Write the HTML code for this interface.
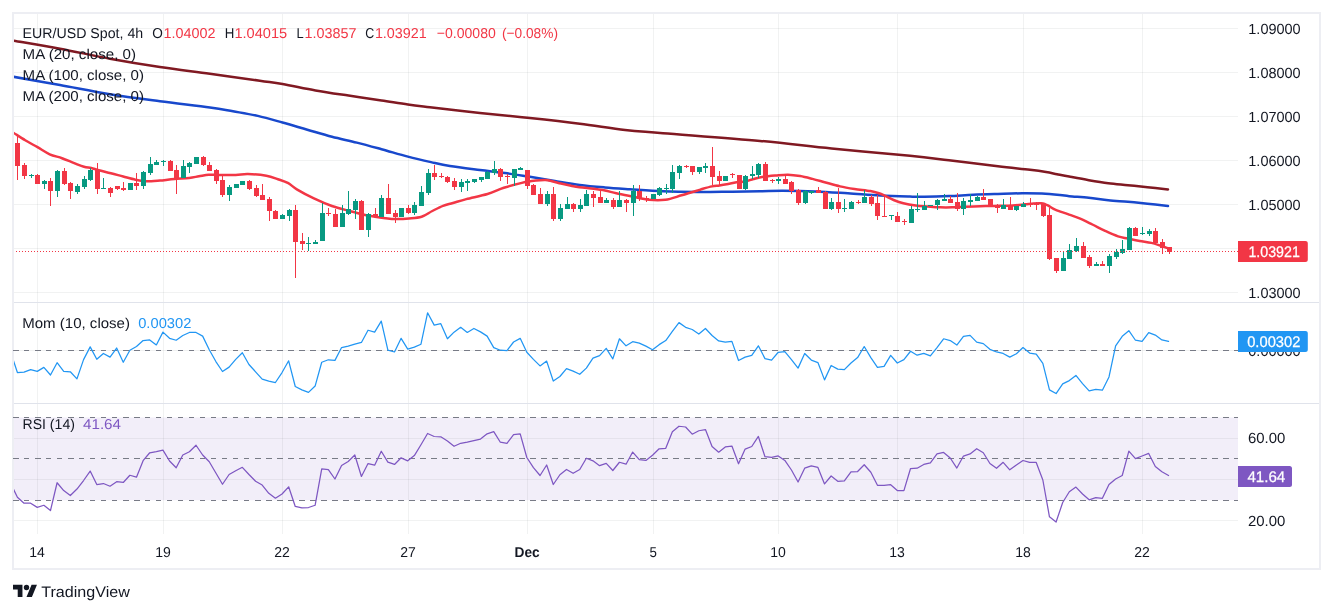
<!DOCTYPE html>
<html><head><meta charset="utf-8"><title>EUR/USD Spot 4h</title>
<style>
html,body{margin:0;padding:0;background:#fff;}
body{width:1333px;height:613px;position:relative;overflow:hidden;font-family:"Liberation Sans",sans-serif;}
text{white-space:pre;}
</style></head><body>
<svg width="1333" height="613" viewBox="0 0 1333 613" style="position:absolute;left:0;top:0;will-change:transform">
<defs><clipPath id="cm"><rect x="14" y="14" width="1224" height="288"/></clipPath><clipPath id="c2"><rect x="14" y="303" width="1224" height="100"/></clipPath><clipPath id="c3"><rect x="14" y="404" width="1224" height="130"/></clipPath></defs>
<g shape-rendering="crispEdges">
<rect x="14" y="417.5" width="1224" height="82.7" fill="#7E57C2" fill-opacity="0.1" shape-rendering="auto"/>
<rect x="37" y="14" width="1" height="520" fill="#2a3c3c" fill-opacity="0.065"/>
<rect x="163" y="14" width="1" height="520" fill="#2a3c3c" fill-opacity="0.065"/>
<rect x="282" y="14" width="1" height="520" fill="#2a3c3c" fill-opacity="0.065"/>
<rect x="408" y="14" width="1" height="520" fill="#2a3c3c" fill-opacity="0.065"/>
<rect x="527" y="14" width="1" height="520" fill="#2a3c3c" fill-opacity="0.065"/>
<rect x="653" y="14" width="1" height="520" fill="#2a3c3c" fill-opacity="0.065"/>
<rect x="778" y="14" width="1" height="520" fill="#2a3c3c" fill-opacity="0.065"/>
<rect x="897" y="14" width="1" height="520" fill="#2a3c3c" fill-opacity="0.065"/>
<rect x="1023" y="14" width="1" height="520" fill="#2a3c3c" fill-opacity="0.065"/>
<rect x="1142" y="14" width="1" height="520" fill="#2a3c3c" fill-opacity="0.065"/>
<rect x="14" y="28" width="1224" height="1" fill="#2a3c3c" fill-opacity="0.065"/>
<rect x="14" y="72" width="1224" height="1" fill="#2a3c3c" fill-opacity="0.065"/>
<rect x="14" y="116" width="1224" height="1" fill="#2a3c3c" fill-opacity="0.065"/>
<rect x="14" y="160" width="1224" height="1" fill="#2a3c3c" fill-opacity="0.065"/>
<rect x="14" y="204" width="1224" height="1" fill="#2a3c3c" fill-opacity="0.065"/>
<rect x="14" y="248" width="1224" height="1" fill="#2a3c3c" fill-opacity="0.065"/>
<rect x="14" y="292" width="1224" height="1" fill="#2a3c3c" fill-opacity="0.065"/>
<rect x="14" y="350" width="1224" height="1" fill="#2a3c3c" fill-opacity="0.065"/>
<rect x="14" y="438" width="1224" height="1" fill="#2a3c3c" fill-opacity="0.065"/>
<rect x="14" y="479" width="1224" height="1" fill="#2a3c3c" fill-opacity="0.065"/>
<rect x="14" y="520" width="1224" height="1" fill="#2a3c3c" fill-opacity="0.065"/>
<rect x="14" y="302" width="1305" height="1" fill="#e0e3eb"/>
<rect x="14" y="403" width="1305" height="1" fill="#e0e3eb"/>
<path d="M12,12H1321V570H12Z M14,14V568H1319V14Z" fill="#edeef3" fill-rule="evenodd"/>
</g>
<line x1="13" y1="350.5" x2="1238" y2="350.5" stroke="#787B86" stroke-width="1" stroke-dasharray="5.5 5.5" shape-rendering="crispEdges"/>
<line x1="13" y1="417.5" x2="1238" y2="417.5" stroke="#787B86" stroke-width="1" stroke-dasharray="5.5 5.5" shape-rendering="crispEdges"/>
<line x1="13" y1="458.5" x2="1238" y2="458.5" stroke="#787B86" stroke-width="1" stroke-dasharray="5.5 5.5" shape-rendering="crispEdges"/>
<line x1="13" y1="500.5" x2="1238" y2="500.5" stroke="#787B86" stroke-width="1" stroke-dasharray="5.5 5.5" shape-rendering="crispEdges"/>
<g clip-path="url(#cm)" fill="none" stroke-width="2.5" stroke-linecap="round" stroke-linejoin="round">
<path d="M5,39.1C6.33,39.34 3.83,38.9 13,40.5C22.17,42.1 43.85,45.67 60,48.7C76.15,51.73 93.25,55.65 109.9,58.7C126.55,61.75 143.23,64.5 159.9,67C176.57,69.5 193.25,71.42 209.9,73.7C226.55,75.98 247.7,78.98 259.8,80.7C271.9,82.42 273.22,82.38 282.5,84C291.78,85.62 304.5,88.47 315.5,90.4C326.5,92.33 337.5,93.92 348.5,95.6C359.5,97.28 371.6,99 381.5,100.5C391.4,102 399.83,103.47 407.9,104.6C415.97,105.73 417.9,105.9 429.9,107.3C441.9,108.7 463.23,111.22 479.9,113C496.57,114.78 513.25,116.22 529.9,118C546.55,119.78 563.95,121.7 579.8,123.7C595.65,125.7 611.13,128.42 625,130C638.87,131.58 640.5,131.38 663,133.2C685.5,135.02 731.9,138.35 760,140.9C788.1,143.45 806.6,146.02 831.6,148.5C856.6,150.98 890.45,153.83 910,155.8C929.55,157.77 934.25,158.55 948.9,160.3C963.55,162.05 984.38,164.72 997.9,166.3C1011.42,167.88 1021.98,168.85 1030,169.8C1038.02,170.75 1041.5,171.27 1046,172C1050.5,172.73 1053.13,173.43 1057,174.2C1060.87,174.97 1063.9,175.6 1069.2,176.6C1074.5,177.6 1082.28,179.1 1088.8,180.2C1095.32,181.3 1101.78,182.37 1108.3,183.2C1114.82,184.03 1121.37,184.52 1127.9,185.2C1134.43,185.88 1140.82,186.6 1147.5,187.3C1154.18,188 1164.58,189.05 1168,189.4" stroke="#801922"/>
<path d="M5,75.29C6.33,75.52 3.83,75.08 13,76.7C22.17,78.32 43.85,82.08 60,85C76.15,87.92 93.25,91.5 109.9,94.2C126.55,96.9 143.23,99 159.9,101.2C176.57,103.4 197.72,105.72 209.9,107.4C222.08,109.08 225.02,109.88 233,111.3C240.98,112.72 249.55,114.03 257.8,115.9C266.05,117.77 274.25,120.2 282.5,122.5C290.75,124.8 299.05,127.32 307.3,129.7C315.55,132.08 323.75,134.65 332,136.8C340.25,138.95 348.55,140.53 356.8,142.6C365.05,144.67 372.98,146.87 381.5,149.2C390.02,151.53 399.65,154.45 407.9,156.6C416.15,158.75 424,160.53 431,162.1C438,163.67 441.75,164.68 449.9,166C458.05,167.32 470.73,168.83 479.9,170C489.07,171.17 496.57,171.87 504.9,173C513.23,174.13 521.58,175.47 529.9,176.8C538.22,178.13 546.48,179.65 554.8,181C563.12,182.35 571.47,183.83 579.8,184.9C588.13,185.97 596.47,186.68 604.8,187.4C613.13,188.12 620.1,188.55 629.8,189.2C639.5,189.85 651.65,190.83 663,191.3C674.35,191.77 686.65,191.93 697.9,192C709.15,192.07 720.15,191.82 730.5,191.7C740.85,191.58 751.32,191.45 760,191.3C768.68,191.15 773.38,190.78 782.6,190.8C791.82,190.82 804.42,190.98 815.3,191.4C826.18,191.82 837.03,192.62 847.9,193.3C858.77,193.98 870.15,194.95 880.5,195.5C890.85,196.05 902.67,196.38 910,196.6C917.33,196.82 918.02,196.88 924.5,196.8C930.98,196.72 940.75,196.45 948.9,196.1C957.05,195.75 965.23,195.07 973.4,194.7C981.57,194.33 989.75,194.13 997.9,193.9C1006.05,193.67 1014.97,193.35 1022.3,193.3C1029.63,193.25 1035.62,193.32 1041.9,193.6C1048.18,193.88 1055.45,194.57 1060,195C1064.55,195.43 1064.4,195.73 1069.2,196.2C1074,196.67 1082.28,197.13 1088.8,197.8C1095.32,198.47 1101.78,199.53 1108.3,200.2C1114.82,200.87 1121.37,201.22 1127.9,201.8C1134.43,202.38 1140.82,203 1147.5,203.7C1154.18,204.4 1164.58,205.62 1168,206" stroke="#1848CC"/>
<path d="M5,127.45C6.33,128.29 9.63,130.38 13,132.5C16.37,134.62 21.12,137.75 25.2,140.2C29.28,142.65 33.42,144.85 37.5,147.2C41.58,149.55 45.62,152.47 49.7,154.3C53.78,156.13 57.92,156.73 62,158.2C66.08,159.67 70.53,161.67 74.2,163.1C77.87,164.53 81.15,165.98 84,166.8C86.85,167.62 88.85,167.43 91.3,168C93.75,168.57 95.43,169.33 98.7,170.2C101.97,171.07 106.82,172.15 110.9,173.2C114.98,174.25 119.12,175.42 123.2,176.5C127.28,177.58 132.15,178.95 135.4,179.7C138.65,180.45 140.05,180.73 142.7,181C145.35,181.27 148.42,181.37 151.3,181.3C154.18,181.23 156.13,180.97 160,180.6C163.87,180.23 169.63,179.55 174.5,179.1C179.37,178.65 185.13,178.37 189.2,177.9C193.27,177.43 195.63,176.83 198.9,176.3C202.17,175.77 205.53,174.92 208.8,174.7C212.07,174.48 214.02,174.95 218.5,175C222.98,175.05 230.8,175.15 235.7,175C240.6,174.85 242.8,173.98 247.9,174.1C253,174.22 261.28,174.85 266.3,175.7C271.32,176.55 274.33,177.95 278,179.2C281.67,180.45 285.17,181.52 288.3,183.2C291.43,184.88 292.53,186.77 296.8,189.3C301.07,191.83 308.05,195.62 313.9,198.4C319.75,201.18 325.92,203.9 331.9,206C337.88,208.1 343.83,209.42 349.8,211C355.77,212.58 361.72,214.3 367.7,215.5C373.68,216.7 380.92,217.6 385.7,218.2C390.48,218.8 392.52,219.05 396.4,219.1C400.28,219.15 404.8,218.9 409,218.5C413.2,218.1 417.72,217.95 421.6,216.7C425.48,215.45 428.73,212.82 432.3,211C435.87,209.18 439.55,207.13 443,205.8C446.45,204.47 449.12,204.12 453,203C456.88,201.88 460.55,200.6 466.3,199.1C472.05,197.6 481.25,195.88 487.5,194C493.75,192.12 498.08,189.65 503.8,187.8C509.52,185.95 517.37,183.98 521.8,182.9C526.23,181.82 528.03,181.7 530.4,181.3C532.77,180.9 533.52,180.72 536,180.5C538.48,180.28 542.63,179.88 545.3,180C547.97,180.12 549.38,180.62 552,181.2C554.62,181.78 558,182.78 561,183.5C564,184.22 566.92,184.87 570,185.5C573.08,186.13 575.57,186.75 579.5,187.3C583.43,187.85 589.35,188.27 593.6,188.8C597.85,189.33 601.22,189.75 605,190.5C608.78,191.25 611.7,192.28 616.3,193.3C620.9,194.32 627.17,195.52 632.6,196.6C638.03,197.68 643.45,199.27 648.9,199.8C654.35,200.33 659.85,200.55 665.3,199.8C670.75,199.05 676.17,196.87 681.6,195.3C687.03,193.73 694.47,191.45 697.9,190.4C701.33,189.35 699.85,189.67 702.2,189C704.55,188.33 709.13,187 712,186.4C714.87,185.8 716.95,185.77 719.4,185.4C721.85,185.03 723.85,184.72 726.7,184.2C729.55,183.68 733.43,182.75 736.5,182.3C739.57,181.85 742.25,182.05 745.1,181.5C747.95,180.95 750.55,179.78 753.6,179C756.65,178.22 759.72,177.38 763.4,176.8C767.08,176.22 771.62,175.85 775.7,175.5C779.78,175.15 783.82,174.6 787.9,174.7C791.98,174.8 796.12,175.4 800.2,176.1C804.28,176.8 808.33,177.88 812.4,178.9C816.47,179.92 820,180.95 824.6,182.2C829.2,183.45 835.02,185.27 840,186.4C844.98,187.53 849.43,188.22 854.5,189C859.57,189.78 866.32,190.38 870.4,191.1C874.48,191.82 876.55,192.5 879,193.3C881.45,194.1 882.67,194.78 885.1,195.9C887.53,197.02 890.55,198.77 893.6,200C896.65,201.23 899.72,202.38 903.4,203.3C907.08,204.22 911.62,204.97 915.7,205.5C919.78,206.03 923.82,206.2 927.9,206.5C931.98,206.8 936.12,207.17 940.2,207.3C944.28,207.43 948.33,207.4 952.4,207.3C956.47,207.2 960,206.88 964.6,206.7C969.2,206.52 975.02,206.33 980,206.2C984.98,206.07 989.03,206.02 994.5,205.9C999.97,205.78 1007.72,205.77 1012.8,205.5C1017.88,205.23 1021.53,204.65 1025,204.3C1028.47,203.95 1030.95,203.58 1033.6,203.4C1036.25,203.22 1039.07,203.13 1040.9,203.2C1042.73,203.27 1043.17,203.27 1044.6,203.8C1046.03,204.33 1047.65,205.4 1049.5,206.4C1051.35,207.4 1052.63,208.52 1055.7,209.8C1058.77,211.08 1063.82,212.62 1067.9,214.1C1071.98,215.58 1076.12,216.97 1080.2,218.7C1084.28,220.43 1088.33,222.52 1092.4,224.5C1096.47,226.48 1100.32,228.62 1104.6,230.6C1108.88,232.58 1114.22,235.08 1118.1,236.4C1121.98,237.72 1124.3,237.75 1127.9,238.5C1131.5,239.25 1135.78,240.17 1139.7,240.9C1143.62,241.63 1147.82,242.05 1151.4,242.9C1154.98,243.75 1158.4,245.08 1161.2,246C1164,246.92 1167.03,248 1168.2,248.4" stroke="#F23645"/>
</g>
<g clip-path="url(#cm)" shape-rendering="crispEdges">
<rect x="17" y="135" width="1" height="45" fill="#F23645"/>
<rect x="15" y="143" width="5" height="23" fill="#F23645"/>
<rect x="24" y="163" width="1" height="16" fill="#F23645"/>
<rect x="22" y="165" width="5" height="11" fill="#F23645"/>
<rect x="31" y="174" width="1" height="4" fill="#089981"/>
<rect x="29" y="175" width="5" height="1" fill="#089981"/>
<rect x="37" y="174" width="1" height="10" fill="#F23645"/>
<rect x="35" y="175" width="5" height="9" fill="#F23645"/>
<rect x="44" y="180" width="1" height="9" fill="#089981"/>
<rect x="42" y="181" width="5" height="3" fill="#089981"/>
<rect x="50" y="178" width="1" height="28" fill="#F23645"/>
<rect x="48" y="181" width="5" height="10" fill="#F23645"/>
<rect x="57" y="170" width="1" height="27" fill="#089981"/>
<rect x="55" y="171" width="5" height="20" fill="#089981"/>
<rect x="64" y="168" width="1" height="17" fill="#F23645"/>
<rect x="62" y="171" width="5" height="13" fill="#F23645"/>
<rect x="70" y="182" width="1" height="17" fill="#F23645"/>
<rect x="68" y="183" width="5" height="8" fill="#F23645"/>
<rect x="77" y="184" width="1" height="10" fill="#089981"/>
<rect x="75" y="186" width="5" height="6" fill="#089981"/>
<rect x="84" y="176" width="1" height="13" fill="#089981"/>
<rect x="82" y="179" width="5" height="8" fill="#089981"/>
<rect x="90" y="168" width="1" height="13" fill="#089981"/>
<rect x="88" y="170" width="5" height="10" fill="#089981"/>
<rect x="97" y="163" width="1" height="31" fill="#F23645"/>
<rect x="95" y="170" width="5" height="19" fill="#F23645"/>
<rect x="103" y="178" width="1" height="11" fill="#089981"/>
<rect x="101" y="188" width="5" height="1" fill="#089981"/>
<rect x="110" y="187" width="1" height="10" fill="#F23645"/>
<rect x="108" y="188" width="5" height="5" fill="#F23645"/>
<rect x="117" y="186" width="1" height="4" fill="#F23645"/>
<rect x="115" y="186" width="5" height="3" fill="#F23645"/>
<rect x="123" y="182" width="1" height="9" fill="#F23645"/>
<rect x="121" y="188" width="5" height="2" fill="#F23645"/>
<rect x="130" y="183" width="1" height="7" fill="#089981"/>
<rect x="128" y="183" width="5" height="7" fill="#089981"/>
<rect x="136" y="173" width="1" height="17" fill="#F23645"/>
<rect x="134" y="183" width="5" height="3" fill="#F23645"/>
<rect x="143" y="171" width="1" height="18" fill="#089981"/>
<rect x="141" y="172" width="5" height="14" fill="#089981"/>
<rect x="150" y="157" width="1" height="18" fill="#089981"/>
<rect x="148" y="164" width="5" height="9" fill="#089981"/>
<rect x="156" y="160" width="1" height="5" fill="#089981"/>
<rect x="154" y="162" width="5" height="3" fill="#089981"/>
<rect x="163" y="160" width="1" height="6" fill="#089981"/>
<rect x="161" y="161" width="5" height="1" fill="#089981"/>
<rect x="170" y="160" width="1" height="11" fill="#F23645"/>
<rect x="168" y="161" width="5" height="10" fill="#F23645"/>
<rect x="176" y="165" width="1" height="29" fill="#F23645"/>
<rect x="174" y="170" width="5" height="8" fill="#F23645"/>
<rect x="183" y="160" width="1" height="18" fill="#089981"/>
<rect x="181" y="166" width="5" height="12" fill="#089981"/>
<rect x="189" y="162" width="1" height="11" fill="#089981"/>
<rect x="187" y="163" width="5" height="4" fill="#089981"/>
<rect x="196" y="157" width="1" height="7" fill="#089981"/>
<rect x="194" y="157" width="5" height="7" fill="#089981"/>
<rect x="203" y="156" width="1" height="10" fill="#F23645"/>
<rect x="201" y="157" width="5" height="8" fill="#F23645"/>
<rect x="209" y="162" width="1" height="9" fill="#F23645"/>
<rect x="207" y="165" width="5" height="6" fill="#F23645"/>
<rect x="216" y="169" width="1" height="15" fill="#F23645"/>
<rect x="214" y="170" width="5" height="11" fill="#F23645"/>
<rect x="222" y="174" width="1" height="23" fill="#F23645"/>
<rect x="220" y="180" width="5" height="15" fill="#F23645"/>
<rect x="229" y="185" width="1" height="16" fill="#089981"/>
<rect x="227" y="187" width="5" height="8" fill="#089981"/>
<rect x="236" y="184" width="1" height="4" fill="#089981"/>
<rect x="234" y="184" width="5" height="4" fill="#089981"/>
<rect x="242" y="181" width="1" height="4" fill="#089981"/>
<rect x="240" y="181" width="5" height="4" fill="#089981"/>
<rect x="249" y="180" width="1" height="10" fill="#F23645"/>
<rect x="247" y="181" width="5" height="8" fill="#F23645"/>
<rect x="256" y="185" width="1" height="12" fill="#F23645"/>
<rect x="254" y="188" width="5" height="8" fill="#F23645"/>
<rect x="262" y="184" width="1" height="16" fill="#F23645"/>
<rect x="260" y="195" width="5" height="5" fill="#F23645"/>
<rect x="269" y="197" width="1" height="24" fill="#F23645"/>
<rect x="267" y="199" width="5" height="12" fill="#F23645"/>
<rect x="275" y="210" width="1" height="9" fill="#F23645"/>
<rect x="273" y="211" width="5" height="8" fill="#F23645"/>
<rect x="282" y="214" width="1" height="5" fill="#089981"/>
<rect x="280" y="215" width="5" height="4" fill="#089981"/>
<rect x="289" y="209" width="1" height="12" fill="#089981"/>
<rect x="287" y="210" width="5" height="6" fill="#089981"/>
<rect x="295" y="205" width="1" height="73" fill="#F23645"/>
<rect x="293" y="210" width="5" height="32" fill="#F23645"/>
<rect x="302" y="233" width="1" height="17" fill="#F23645"/>
<rect x="300" y="241" width="5" height="3" fill="#F23645"/>
<rect x="308" y="237" width="1" height="14" fill="#089981"/>
<rect x="306" y="243" width="5" height="1" fill="#089981"/>
<rect x="315" y="240" width="1" height="4" fill="#089981"/>
<rect x="313" y="242" width="5" height="2" fill="#089981"/>
<rect x="322" y="203" width="1" height="38" fill="#089981"/>
<rect x="320" y="213" width="5" height="28" fill="#089981"/>
<rect x="328" y="208" width="1" height="8" fill="#F23645"/>
<rect x="326" y="213" width="5" height="1" fill="#F23645"/>
<rect x="335" y="209" width="1" height="18" fill="#F23645"/>
<rect x="333" y="214" width="5" height="13" fill="#F23645"/>
<rect x="342" y="205" width="1" height="22" fill="#089981"/>
<rect x="340" y="213" width="5" height="14" fill="#089981"/>
<rect x="348" y="191" width="1" height="24" fill="#089981"/>
<rect x="346" y="209" width="5" height="5" fill="#089981"/>
<rect x="355" y="199" width="1" height="20" fill="#089981"/>
<rect x="353" y="201" width="5" height="9" fill="#089981"/>
<rect x="361" y="200" width="1" height="30" fill="#F23645"/>
<rect x="359" y="201" width="5" height="29" fill="#F23645"/>
<rect x="368" y="213" width="1" height="24" fill="#089981"/>
<rect x="366" y="214" width="5" height="16" fill="#089981"/>
<rect x="375" y="208" width="1" height="9" fill="#F23645"/>
<rect x="373" y="214" width="5" height="3" fill="#F23645"/>
<rect x="381" y="195" width="1" height="22" fill="#089981"/>
<rect x="379" y="198" width="5" height="19" fill="#089981"/>
<rect x="388" y="184" width="1" height="30" fill="#F23645"/>
<rect x="386" y="198" width="5" height="16" fill="#F23645"/>
<rect x="395" y="210" width="1" height="13" fill="#F23645"/>
<rect x="393" y="213" width="5" height="4" fill="#F23645"/>
<rect x="401" y="208" width="1" height="9" fill="#089981"/>
<rect x="399" y="208" width="5" height="9" fill="#089981"/>
<rect x="408" y="205" width="1" height="9" fill="#F23645"/>
<rect x="406" y="208" width="5" height="5" fill="#F23645"/>
<rect x="414" y="202" width="1" height="13" fill="#089981"/>
<rect x="412" y="205" width="5" height="8" fill="#089981"/>
<rect x="421" y="186" width="1" height="20" fill="#089981"/>
<rect x="419" y="192" width="5" height="14" fill="#089981"/>
<rect x="428" y="169" width="1" height="26" fill="#089981"/>
<rect x="426" y="173" width="5" height="20" fill="#089981"/>
<rect x="434" y="165" width="1" height="15" fill="#F23645"/>
<rect x="432" y="173" width="5" height="4" fill="#F23645"/>
<rect x="441" y="173" width="1" height="5" fill="#F23645"/>
<rect x="439" y="176" width="5" height="1" fill="#F23645"/>
<rect x="447" y="176" width="1" height="7" fill="#F23645"/>
<rect x="445" y="177" width="5" height="5" fill="#F23645"/>
<rect x="454" y="178" width="1" height="12" fill="#F23645"/>
<rect x="452" y="181" width="5" height="6" fill="#F23645"/>
<rect x="461" y="179" width="1" height="13" fill="#089981"/>
<rect x="459" y="182" width="5" height="5" fill="#089981"/>
<rect x="467" y="179" width="1" height="12" fill="#089981"/>
<rect x="465" y="181" width="5" height="2" fill="#089981"/>
<rect x="474" y="179" width="1" height="4" fill="#089981"/>
<rect x="472" y="179" width="5" height="3" fill="#089981"/>
<rect x="481" y="177" width="1" height="5" fill="#089981"/>
<rect x="479" y="177" width="5" height="3" fill="#089981"/>
<rect x="487" y="171" width="1" height="8" fill="#089981"/>
<rect x="485" y="172" width="5" height="7" fill="#089981"/>
<rect x="494" y="161" width="1" height="14" fill="#089981"/>
<rect x="492" y="169" width="5" height="4" fill="#089981"/>
<rect x="500" y="168" width="1" height="13" fill="#F23645"/>
<rect x="498" y="169" width="5" height="8" fill="#F23645"/>
<rect x="507" y="174" width="1" height="10" fill="#F23645"/>
<rect x="505" y="176" width="5" height="1" fill="#F23645"/>
<rect x="514" y="169" width="1" height="17" fill="#089981"/>
<rect x="512" y="169" width="5" height="9" fill="#089981"/>
<rect x="520" y="167" width="1" height="3" fill="#089981"/>
<rect x="518" y="168" width="5" height="2" fill="#089981"/>
<rect x="527" y="170" width="1" height="19" fill="#F23645"/>
<rect x="525" y="170" width="5" height="16" fill="#F23645"/>
<rect x="533" y="184" width="1" height="11" fill="#F23645"/>
<rect x="531" y="185" width="5" height="10" fill="#F23645"/>
<rect x="540" y="188" width="1" height="16" fill="#F23645"/>
<rect x="538" y="194" width="5" height="10" fill="#F23645"/>
<rect x="547" y="191" width="1" height="15" fill="#089981"/>
<rect x="545" y="194" width="5" height="10" fill="#089981"/>
<rect x="553" y="187" width="1" height="34" fill="#F23645"/>
<rect x="551" y="194" width="5" height="25" fill="#F23645"/>
<rect x="560" y="204" width="1" height="17" fill="#089981"/>
<rect x="558" y="208" width="5" height="11" fill="#089981"/>
<rect x="567" y="197" width="1" height="12" fill="#089981"/>
<rect x="565" y="204" width="5" height="5" fill="#089981"/>
<rect x="573" y="203" width="1" height="9" fill="#F23645"/>
<rect x="571" y="204" width="5" height="5" fill="#F23645"/>
<rect x="580" y="199" width="1" height="13" fill="#089981"/>
<rect x="578" y="205" width="5" height="4" fill="#089981"/>
<rect x="586" y="190" width="1" height="16" fill="#089981"/>
<rect x="584" y="194" width="5" height="12" fill="#089981"/>
<rect x="593" y="191" width="1" height="16" fill="#F23645"/>
<rect x="591" y="194" width="5" height="4" fill="#F23645"/>
<rect x="600" y="191" width="1" height="12" fill="#F23645"/>
<rect x="598" y="197" width="5" height="6" fill="#F23645"/>
<rect x="606" y="198" width="1" height="5" fill="#089981"/>
<rect x="604" y="200" width="5" height="3" fill="#089981"/>
<rect x="613" y="198" width="1" height="11" fill="#F23645"/>
<rect x="611" y="200" width="5" height="7" fill="#F23645"/>
<rect x="619" y="191" width="1" height="16" fill="#089981"/>
<rect x="617" y="200" width="5" height="7" fill="#089981"/>
<rect x="626" y="199" width="1" height="13" fill="#F23645"/>
<rect x="624" y="200" width="5" height="3" fill="#F23645"/>
<rect x="633" y="185" width="1" height="31" fill="#089981"/>
<rect x="631" y="191" width="5" height="12" fill="#089981"/>
<rect x="639" y="185" width="1" height="16" fill="#F23645"/>
<rect x="637" y="191" width="5" height="8" fill="#F23645"/>
<rect x="646" y="196" width="1" height="6" fill="#F23645"/>
<rect x="644" y="198" width="5" height="1" fill="#F23645"/>
<rect x="653" y="194" width="1" height="5" fill="#089981"/>
<rect x="651" y="194" width="5" height="5" fill="#089981"/>
<rect x="659" y="187" width="1" height="9" fill="#089981"/>
<rect x="657" y="188" width="5" height="7" fill="#089981"/>
<rect x="666" y="184" width="1" height="10" fill="#089981"/>
<rect x="664" y="188" width="5" height="1" fill="#089981"/>
<rect x="672" y="165" width="1" height="28" fill="#089981"/>
<rect x="670" y="172" width="5" height="17" fill="#089981"/>
<rect x="679" y="165" width="1" height="14" fill="#089981"/>
<rect x="677" y="166" width="5" height="7" fill="#089981"/>
<rect x="686" y="165" width="1" height="3" fill="#F23645"/>
<rect x="684" y="166" width="5" height="1" fill="#F23645"/>
<rect x="692" y="166" width="1" height="9" fill="#F23645"/>
<rect x="690" y="166" width="5" height="6" fill="#F23645"/>
<rect x="699" y="167" width="1" height="7" fill="#089981"/>
<rect x="697" y="167" width="5" height="5" fill="#089981"/>
<rect x="705" y="163" width="1" height="10" fill="#089981"/>
<rect x="703" y="166" width="5" height="2" fill="#089981"/>
<rect x="712" y="147" width="1" height="38" fill="#F23645"/>
<rect x="710" y="166" width="5" height="11" fill="#F23645"/>
<rect x="719" y="171" width="1" height="14" fill="#F23645"/>
<rect x="717" y="176" width="5" height="5" fill="#F23645"/>
<rect x="725" y="176" width="1" height="5" fill="#089981"/>
<rect x="723" y="176" width="5" height="5" fill="#089981"/>
<rect x="732" y="173" width="1" height="5" fill="#F23645"/>
<rect x="730" y="174" width="5" height="1" fill="#F23645"/>
<rect x="739" y="175" width="1" height="14" fill="#F23645"/>
<rect x="737" y="175" width="5" height="14" fill="#F23645"/>
<rect x="745" y="175" width="1" height="15" fill="#089981"/>
<rect x="743" y="176" width="5" height="13" fill="#089981"/>
<rect x="752" y="166" width="1" height="13" fill="#089981"/>
<rect x="750" y="174" width="5" height="2" fill="#089981"/>
<rect x="758" y="163" width="1" height="15" fill="#089981"/>
<rect x="756" y="164" width="5" height="11" fill="#089981"/>
<rect x="765" y="162" width="1" height="19" fill="#F23645"/>
<rect x="763" y="164" width="5" height="17" fill="#F23645"/>
<rect x="772" y="179" width="1" height="4" fill="#F23645"/>
<rect x="770" y="180" width="5" height="1" fill="#F23645"/>
<rect x="778" y="177" width="1" height="7" fill="#089981"/>
<rect x="776" y="179" width="5" height="2" fill="#089981"/>
<rect x="785" y="174" width="1" height="10" fill="#F23645"/>
<rect x="783" y="179" width="5" height="5" fill="#F23645"/>
<rect x="791" y="181" width="1" height="13" fill="#F23645"/>
<rect x="789" y="182" width="5" height="9" fill="#F23645"/>
<rect x="798" y="189" width="1" height="16" fill="#F23645"/>
<rect x="796" y="190" width="5" height="13" fill="#F23645"/>
<rect x="805" y="190" width="1" height="14" fill="#089981"/>
<rect x="803" y="191" width="5" height="12" fill="#089981"/>
<rect x="811" y="191" width="1" height="3" fill="#089981"/>
<rect x="809" y="191" width="5" height="2" fill="#089981"/>
<rect x="818" y="187" width="1" height="6" fill="#F23645"/>
<rect x="816" y="190" width="5" height="3" fill="#F23645"/>
<rect x="825" y="191" width="1" height="18" fill="#F23645"/>
<rect x="823" y="192" width="5" height="17" fill="#F23645"/>
<rect x="831" y="198" width="1" height="12" fill="#089981"/>
<rect x="829" y="202" width="5" height="7" fill="#089981"/>
<rect x="838" y="188" width="1" height="25" fill="#F23645"/>
<rect x="836" y="202" width="5" height="7" fill="#F23645"/>
<rect x="844" y="199" width="1" height="13" fill="#089981"/>
<rect x="842" y="208" width="5" height="1" fill="#089981"/>
<rect x="851" y="201" width="1" height="8" fill="#089981"/>
<rect x="849" y="202" width="5" height="7" fill="#089981"/>
<rect x="858" y="200" width="1" height="4" fill="#F23645"/>
<rect x="856" y="202" width="5" height="1" fill="#F23645"/>
<rect x="864" y="190" width="1" height="13" fill="#089981"/>
<rect x="862" y="197" width="5" height="6" fill="#089981"/>
<rect x="871" y="195" width="1" height="11" fill="#F23645"/>
<rect x="869" y="197" width="5" height="7" fill="#F23645"/>
<rect x="877" y="195" width="1" height="25" fill="#F23645"/>
<rect x="875" y="203" width="5" height="13" fill="#F23645"/>
<rect x="884" y="196" width="1" height="21" fill="#F23645"/>
<rect x="882" y="216" width="5" height="1" fill="#F23645"/>
<rect x="891" y="215" width="1" height="5" fill="#089981"/>
<rect x="889" y="215" width="5" height="1" fill="#089981"/>
<rect x="897" y="212" width="1" height="10" fill="#F23645"/>
<rect x="895" y="216" width="5" height="6" fill="#F23645"/>
<rect x="904" y="219" width="1" height="6" fill="#F23645"/>
<rect x="902" y="221" width="5" height="1" fill="#F23645"/>
<rect x="911" y="206" width="1" height="17" fill="#089981"/>
<rect x="909" y="209" width="5" height="14" fill="#089981"/>
<rect x="917" y="193" width="1" height="19" fill="#089981"/>
<rect x="915" y="209" width="5" height="1" fill="#089981"/>
<rect x="924" y="201" width="1" height="9" fill="#089981"/>
<rect x="922" y="206" width="5" height="4" fill="#089981"/>
<rect x="930" y="205" width="1" height="1" fill="#089981"/>
<rect x="928" y="205" width="5" height="1" fill="#089981"/>
<rect x="937" y="199" width="1" height="11" fill="#089981"/>
<rect x="935" y="200" width="5" height="5" fill="#089981"/>
<rect x="944" y="194" width="1" height="7" fill="#089981"/>
<rect x="942" y="199" width="5" height="2" fill="#089981"/>
<rect x="950" y="196" width="1" height="7" fill="#F23645"/>
<rect x="948" y="199" width="5" height="4" fill="#F23645"/>
<rect x="957" y="193" width="1" height="18" fill="#F23645"/>
<rect x="955" y="202" width="5" height="7" fill="#F23645"/>
<rect x="963" y="198" width="1" height="17" fill="#089981"/>
<rect x="961" y="201" width="5" height="8" fill="#089981"/>
<rect x="970" y="194" width="1" height="12" fill="#089981"/>
<rect x="968" y="200" width="5" height="2" fill="#089981"/>
<rect x="977" y="196" width="1" height="5" fill="#089981"/>
<rect x="975" y="197" width="5" height="4" fill="#089981"/>
<rect x="983" y="189" width="1" height="11" fill="#F23645"/>
<rect x="981" y="197" width="5" height="3" fill="#F23645"/>
<rect x="990" y="199" width="1" height="7" fill="#F23645"/>
<rect x="988" y="199" width="5" height="7" fill="#F23645"/>
<rect x="997" y="204" width="1" height="9" fill="#F23645"/>
<rect x="995" y="206" width="5" height="2" fill="#F23645"/>
<rect x="1003" y="199" width="1" height="10" fill="#089981"/>
<rect x="1001" y="205" width="5" height="4" fill="#089981"/>
<rect x="1010" y="197" width="1" height="13" fill="#F23645"/>
<rect x="1008" y="205" width="5" height="5" fill="#F23645"/>
<rect x="1016" y="206" width="1" height="5" fill="#089981"/>
<rect x="1014" y="206" width="5" height="4" fill="#089981"/>
<rect x="1023" y="202" width="1" height="5" fill="#089981"/>
<rect x="1021" y="204" width="5" height="3" fill="#089981"/>
<rect x="1030" y="198" width="1" height="9" fill="#F23645"/>
<rect x="1028" y="204" width="5" height="1" fill="#F23645"/>
<rect x="1036" y="202" width="1" height="8" fill="#F23645"/>
<rect x="1034" y="204" width="5" height="1" fill="#F23645"/>
<rect x="1043" y="203" width="1" height="14" fill="#F23645"/>
<rect x="1041" y="204" width="5" height="12" fill="#F23645"/>
<rect x="1049" y="208" width="1" height="52" fill="#F23645"/>
<rect x="1047" y="215" width="5" height="44" fill="#F23645"/>
<rect x="1056" y="258" width="1" height="15" fill="#F23645"/>
<rect x="1054" y="258" width="5" height="13" fill="#F23645"/>
<rect x="1063" y="251" width="1" height="20" fill="#089981"/>
<rect x="1061" y="258" width="5" height="13" fill="#089981"/>
<rect x="1069" y="244" width="1" height="15" fill="#089981"/>
<rect x="1067" y="250" width="5" height="9" fill="#089981"/>
<rect x="1076" y="238" width="1" height="14" fill="#089981"/>
<rect x="1074" y="246" width="5" height="5" fill="#089981"/>
<rect x="1083" y="242" width="1" height="16" fill="#F23645"/>
<rect x="1081" y="246" width="5" height="12" fill="#F23645"/>
<rect x="1089" y="255" width="1" height="13" fill="#F23645"/>
<rect x="1087" y="257" width="5" height="9" fill="#F23645"/>
<rect x="1096" y="262" width="1" height="4" fill="#089981"/>
<rect x="1094" y="264" width="5" height="2" fill="#089981"/>
<rect x="1102" y="261" width="1" height="5" fill="#F23645"/>
<rect x="1100" y="264" width="5" height="2" fill="#F23645"/>
<rect x="1109" y="254" width="1" height="19" fill="#089981"/>
<rect x="1107" y="256" width="5" height="10" fill="#089981"/>
<rect x="1116" y="249" width="1" height="10" fill="#089981"/>
<rect x="1114" y="252" width="5" height="5" fill="#089981"/>
<rect x="1122" y="240" width="1" height="14" fill="#089981"/>
<rect x="1120" y="249" width="5" height="4" fill="#089981"/>
<rect x="1129" y="227" width="1" height="23" fill="#089981"/>
<rect x="1127" y="228" width="5" height="22" fill="#089981"/>
<rect x="1135" y="227" width="1" height="9" fill="#F23645"/>
<rect x="1133" y="228" width="5" height="8" fill="#F23645"/>
<rect x="1142" y="227" width="1" height="8" fill="#089981"/>
<rect x="1140" y="233" width="5" height="1" fill="#089981"/>
<rect x="1149" y="229" width="1" height="7" fill="#089981"/>
<rect x="1147" y="231" width="5" height="3" fill="#089981"/>
<rect x="1155" y="228" width="1" height="15" fill="#F23645"/>
<rect x="1153" y="231" width="5" height="12" fill="#F23645"/>
<rect x="1162" y="239" width="1" height="15" fill="#F23645"/>
<rect x="1160" y="242" width="5" height="6" fill="#F23645"/>
<rect x="1169" y="247" width="1" height="7" fill="#F23645"/>
<rect x="1167" y="247" width="5" height="5" fill="#F23645"/>
</g>
<line x1="16" y1="251.5" x2="1238" y2="251.5" stroke="#F23645" stroke-width="1" stroke-dasharray="1 2" shape-rendering="crispEdges"/>
<polyline clip-path="url(#c2)" points="10.79,352.72 17.4,372.54 24.02,372.1 30.64,369.6 37.25,371.36 43.87,367.4 50.48,375.03 57.1,362.7 63.71,371.36 70.33,371.8 76.95,378.85 83.56,359.62 90.18,346.84 96.79,359.32 103.41,353.45 110.03,357.12 116.64,348.02 123.26,362.26 129.87,350.22 136.49,346.55 143.1,340.53 149.72,339.94 156.34,344.94 162.95,332.16 169.57,338.33 176.18,340.24 182.8,335.54 189.41,332.46 196.03,332.46 202.65,336.13 209.26,349.78 215.88,361.53 222.49,371.51 229.11,367.11 235.72,359.32 242.34,352.72 248.96,364.46 255.57,371.8 262.19,379.14 268.8,381.05 275.42,382.52 282.03,372.54 288.65,360.79 295.27,386.49 301.88,389.86 308.5,392.36 315.11,386.05 321.73,362.26 328.34,359.76 334.96,360.35 341.58,347.58 348.19,346.11 354.81,344.2 361.42,342.44 368.04,330.25 374.65,332.16 381.27,321.15 387.89,350.22 394.5,351.98 401.12,338.33 407.73,349.05 414.35,347.14 420.97,344.2 427.58,312.78 434.2,325.11 440.81,323.65 447.43,338.77 454.04,332.16 460.66,327.32 467.28,332.46 473.89,328.49 480.51,331.87 487.12,336.13 493.74,347.58 500.35,350.22 506.97,350.51 513.59,342 520.2,338.33 526.82,352.28 533.43,359.32 540.05,365.93 546.66,361.09 553.28,381.05 559.9,376.5 566.51,368.57 573.13,371.07 579.74,374.3 586.36,368.13 592.97,358.15 599.59,355.65 606.21,348.31 612.82,358.88 619.44,338.77 626.05,345.82 632.67,341.71 639.28,343.17 645.9,346.11 652.52,349.78 659.13,344.64 665.75,340.53 672.36,331.43 678.98,322.62 685.6,327.32 692.21,329.52 698.83,334.07 705.44,328.49 712.06,335.54 718.67,340.97 725.29,342.15 731.91,341.41 738.52,360.5 745.14,357.12 751.75,355.36 758.37,345.82 764.98,358.59 771.6,360.06 778.22,352.28 784.83,351.69 791.45,359.62 798.06,368.13 804.68,353.45 811.29,360.06 817.91,362.55 824.53,379.88 831.14,365.49 837.76,369.16 844.37,369.6 850.99,362.99 857.6,357.56 864.22,346.55 870.84,357.56 877.45,367.4 884.07,366.37 890.68,355.36 897.3,362.99 903.91,359.62 910.53,351.25 917.15,355.21 923.76,353.45 930.38,355.95 936.99,347.58 943.61,338.77 950.23,340.53 956.84,345.08 963.46,336.27 970.07,335.39 976.69,342.15 983.3,343.61 989.92,349.34 996.54,351.98 1003.15,353.45 1009.77,357.12 1016.38,353.74 1023,347.58 1029.61,353.01 1036.23,354.19 1042.85,363.29 1049.46,389.86 1056.08,393.53 1062.69,383.84 1069.31,380.61 1075.92,375.47 1082.54,383.55 1089.16,390.89 1095.77,389.42 1102.39,390.16 1109,376.94 1115.62,345.82 1122.23,336.27 1128.85,330.69 1135.47,340.24 1142.08,341.41 1148.7,332.6 1155.31,335.1 1161.93,339.94 1168.55,341.41" fill="none" stroke="#2196F3" stroke-width="1.25" stroke-linejoin="round" stroke-linecap="round"/>
<polyline clip-path="url(#c3)" points="10.79,483.51 17.4,497.32 24.02,503.17 30.64,503.17 37.25,507.37 43.87,505.27 50.48,510.52 57.1,482.76 63.71,490.57 70.33,495.52 76.95,489.07 83.56,480.51 90.18,471.06 96.79,484.56 103.41,483.51 110.03,486.22 116.64,481.71 123.26,482.46 129.87,475.26 136.49,477.21 143.1,460.71 149.72,452.76 156.34,451.56 162.95,450.06 169.57,461.01 176.18,467.76 182.8,455.01 189.41,451.71 196.03,445.26 202.65,455.01 209.26,461.76 215.88,473.01 222.49,484.26 229.11,474.51 235.72,470.76 242.34,467.31 248.96,474.51 255.57,481.26 262.19,485.02 268.8,493.27 275.42,498.22 282.03,494.02 288.65,486.82 295.27,506.47 301.88,507.82 308.5,507.52 315.11,505.27 321.73,468.96 328.34,469.56 334.96,479.01 341.58,465.51 348.19,461.46 354.81,455.01 361.42,476.46 368.04,463.56 374.65,465.21 381.27,451.26 387.89,462.06 394.5,464.46 401.12,457.81 407.73,460.81 414.35,455.56 420.97,444.76 427.58,433.5 434.2,436.5 440.81,436.8 447.43,441.01 454.04,446.26 460.66,443.26 467.28,442.06 473.89,440.56 480.51,439.05 487.12,433.8 493.74,431.55 500.35,442.21 506.97,443.26 513.59,434.7 520.2,433.8 526.82,457.51 533.43,467.71 540.05,475.51 546.66,465.01 553.28,484.52 559.9,474.76 566.51,469.51 573.13,473.26 579.74,469.51 586.36,458.26 592.97,460.81 599.59,465.71 606.21,463.31 612.82,470.51 619.44,462.26 626.05,464.21 632.67,452.06 639.28,459.71 645.9,460.46 652.52,455.21 659.13,448.76 665.75,448.31 672.36,431.8 678.98,426.25 685.6,427 692.21,434.2 698.83,430.75 705.44,429.55 712.06,446.51 718.67,452.21 725.29,446.96 731.91,446.06 738.52,463.76 745.14,449.06 751.75,446.51 758.37,436.46 764.98,456.71 771.6,457.46 778.22,455.96 784.83,460.46 791.45,470.01 798.06,482.01 804.68,468.21 811.29,465.81 817.91,467.46 824.53,483.96 831.14,476.01 837.76,481.26 844.37,480.96 850.99,471.81 857.6,471.51 864.22,464.76 870.84,472.26 877.45,485.32 884.07,485.47 890.68,484.71 897.3,490.57 903.91,490.57 910.53,468.51 917.15,468.21 923.76,464.46 930.38,462.81 936.99,453.81 943.61,452.46 950.23,458.01 956.84,468.06 963.46,456.06 970.07,453.96 976.69,448.71 983.3,452.76 989.92,463.51 996.54,468.31 1003.15,462.31 1009.77,469.81 1016.38,465.01 1023,460.51 1029.61,462.31 1036.23,462.46 1042.85,480.01 1049.46,516.77 1056.08,522.02 1062.69,502.52 1069.31,491.71 1075.92,487.06 1082.54,493.96 1089.16,499.82 1095.77,497.57 1102.39,498.32 1109,484.51 1115.62,478.96 1122.23,475.51 1128.85,451.05 1135.47,458.56 1142.08,456.01 1148.7,453.45 1155.31,466.51 1161.93,471.76 1168.55,475.51" fill="none" stroke="#7E57C2" stroke-width="1.25" stroke-linejoin="round" stroke-linecap="round"/>
<g font-family="'Liberation Sans', sans-serif" text-rendering="geometricPrecision">
<text x="1248.3" y="33.85" fill="#131722" font-size="14.6" font-weight="normal" text-anchor="start" textLength="52.4" lengthAdjust="spacingAndGlyphs">1.09000</text>
<text x="1248.3" y="77.75" fill="#131722" font-size="14.6" font-weight="normal" text-anchor="start" textLength="52.4" lengthAdjust="spacingAndGlyphs">1.08000</text>
<text x="1248.3" y="121.75" fill="#131722" font-size="14.6" font-weight="normal" text-anchor="start" textLength="52.4" lengthAdjust="spacingAndGlyphs">1.07000</text>
<text x="1248.3" y="165.85" fill="#131722" font-size="14.6" font-weight="normal" text-anchor="start" textLength="52.4" lengthAdjust="spacingAndGlyphs">1.06000</text>
<text x="1248.3" y="209.95" fill="#131722" font-size="14.6" font-weight="normal" text-anchor="start" textLength="52.4" lengthAdjust="spacingAndGlyphs">1.05000</text>
<text x="1248.3" y="298.05" fill="#131722" font-size="14.6" font-weight="normal" text-anchor="start" textLength="52.4" lengthAdjust="spacingAndGlyphs">1.03000</text>
<text x="1248.3" y="356.15" fill="#131722" font-size="14.6" font-weight="normal" text-anchor="start" textLength="52.4" lengthAdjust="spacingAndGlyphs">0.00000</text>
<text x="1247.9" y="442.85" fill="#131722" font-size="14.6" font-weight="normal" text-anchor="start" textLength="37.4" lengthAdjust="spacingAndGlyphs">60.00</text>
<text x="1247.9" y="525.85" fill="#131722" font-size="14.6" font-weight="normal" text-anchor="start" textLength="37.4" lengthAdjust="spacingAndGlyphs">20.00</text>
<text x="37.1" y="556.6" fill="#131722" font-size="14.3" font-weight="normal" text-anchor="middle" textLength="15.6" lengthAdjust="spacingAndGlyphs">14</text>
<text x="163.1" y="556.6" fill="#131722" font-size="14.3" font-weight="normal" text-anchor="middle" textLength="15.6" lengthAdjust="spacingAndGlyphs">19</text>
<text x="282.1" y="556.6" fill="#131722" font-size="14.3" font-weight="normal" text-anchor="middle" textLength="15.6" lengthAdjust="spacingAndGlyphs">22</text>
<text x="408.1" y="556.6" fill="#131722" font-size="14.3" font-weight="normal" text-anchor="middle" textLength="15.6" lengthAdjust="spacingAndGlyphs">27</text>
<text x="527.1" y="556.6" fill="#131722" font-size="14.3" font-weight="bold" text-anchor="middle" textLength="25.2" lengthAdjust="spacingAndGlyphs">Dec</text>
<text x="653.1" y="556.6" fill="#131722" font-size="14.3" font-weight="normal" text-anchor="middle" textLength="7.4" lengthAdjust="spacingAndGlyphs">5</text>
<text x="778.1" y="556.6" fill="#131722" font-size="14.3" font-weight="normal" text-anchor="middle" textLength="15.6" lengthAdjust="spacingAndGlyphs">10</text>
<text x="897.1" y="556.6" fill="#131722" font-size="14.3" font-weight="normal" text-anchor="middle" textLength="15.6" lengthAdjust="spacingAndGlyphs">13</text>
<text x="1023.1" y="556.6" fill="#131722" font-size="14.3" font-weight="normal" text-anchor="middle" textLength="15.6" lengthAdjust="spacingAndGlyphs">18</text>
<text x="1142.1" y="556.6" fill="#131722" font-size="14.3" font-weight="normal" text-anchor="middle" textLength="15.6" lengthAdjust="spacingAndGlyphs">22</text>
<text x="22.6" y="37.7" fill="#131722" font-size="14.3" font-weight="normal" text-anchor="start" textLength="120.6" lengthAdjust="spacingAndGlyphs">EUR/USD Spot, 4h</text>
<text x="152.2" y="37.7" fill="#131722" font-size="14.3" font-weight="normal" text-anchor="start" textLength="10.6" lengthAdjust="spacingAndGlyphs">O</text>
<text x="163.4" y="37.7" fill="#F23645" font-size="14.3" font-weight="normal" text-anchor="start" textLength="52" lengthAdjust="spacingAndGlyphs">1.04002</text>
<text x="224.8" y="37.7" fill="#131722" font-size="14.3" font-weight="normal" text-anchor="start" textLength="9.6" lengthAdjust="spacingAndGlyphs">H</text>
<text x="234.4" y="37.7" fill="#F23645" font-size="14.3" font-weight="normal" text-anchor="start" textLength="52.8" lengthAdjust="spacingAndGlyphs">1.04015</text>
<text x="296.6" y="37.7" fill="#131722" font-size="14.3" font-weight="normal" text-anchor="start" textLength="7.2" lengthAdjust="spacingAndGlyphs">L</text>
<text x="304.4" y="37.7" fill="#F23645" font-size="14.3" font-weight="normal" text-anchor="start" textLength="52" lengthAdjust="spacingAndGlyphs">1.03857</text>
<text x="365.2" y="37.7" fill="#131722" font-size="14.3" font-weight="normal" text-anchor="start" textLength="9" lengthAdjust="spacingAndGlyphs">C</text>
<text x="374.9" y="37.7" fill="#F23645" font-size="14.3" font-weight="normal" text-anchor="start" textLength="51.8" lengthAdjust="spacingAndGlyphs">1.03921</text>
<text x="436.8" y="37.7" fill="#F23645" font-size="14.3" font-weight="normal" text-anchor="start" textLength="59" lengthAdjust="spacingAndGlyphs">−0.00080</text>
<text x="502" y="37.7" fill="#F23645" font-size="14.3" font-weight="normal" text-anchor="start" textLength="56" lengthAdjust="spacingAndGlyphs">(−0.08%)</text>
<text x="22.6" y="58.7" fill="#131722" font-size="14.3" font-weight="normal" text-anchor="start" textLength="113.4" lengthAdjust="spacingAndGlyphs">MA (20, close, 0)</text>
<text x="22.6" y="79.7" fill="#131722" font-size="14.3" font-weight="normal" text-anchor="start" textLength="121.4" lengthAdjust="spacingAndGlyphs">MA (100, close, 0)</text>
<text x="22.6" y="100.7" fill="#131722" font-size="14.3" font-weight="normal" text-anchor="start" textLength="121.4" lengthAdjust="spacingAndGlyphs">MA (200, close, 0)</text>
<text x="22.2" y="328" fill="#131722" font-size="14.3" font-weight="normal" text-anchor="start" textLength="107.8" lengthAdjust="spacingAndGlyphs">Mom (10, close)</text>
<text x="138.2" y="328" fill="#2196F3" font-size="14.3" font-weight="normal" text-anchor="start" textLength="53.2" lengthAdjust="spacingAndGlyphs">0.00302</text>
<text x="22.5" y="428.5" fill="#131722" font-size="14.3" font-weight="normal" text-anchor="start" textLength="52.4" lengthAdjust="spacingAndGlyphs">RSI (14)</text>
<text x="83" y="428.5" fill="#7E57C2" font-size="14.3" font-weight="normal" text-anchor="start" textLength="38" lengthAdjust="spacingAndGlyphs">41.64</text>
<text x="41.2" y="596.6" fill="#131722" font-size="15.2" font-weight="normal" text-anchor="start" textLength="88.6" lengthAdjust="spacingAndGlyphs">TradingView</text>
</g>
<path d="M1238,241H1305.3a2.5,2.5 0 0 1 2.5,2.5V259.5a2.5,2.5 0 0 1 -2.5,2.5H1238Z" fill="#F23645"/>
<text x="1248.4" y="256.75" fill="#fff" font-family="'Liberation Sans', sans-serif" font-size="15.4" text-rendering="geometricPrecision" textLength="51.4" lengthAdjust="spacingAndGlyphs" stroke="#fff" stroke-width="0.25">1.03921</text>
<path d="M1238,331H1305.3a2.5,2.5 0 0 1 2.5,2.5V349.5a2.5,2.5 0 0 1 -2.5,2.5H1238Z" fill="#2196F3"/>
<text x="1247.2" y="346.75" fill="#fff" font-family="'Liberation Sans', sans-serif" font-size="15.4" text-rendering="geometricPrecision" textLength="53.2" lengthAdjust="spacingAndGlyphs" stroke="#fff" stroke-width="0.25">0.00302</text>
<path d="M1238,466H1289.5a2.5,2.5 0 0 1 2.5,2.5V484.5a2.5,2.5 0 0 1 -2.5,2.5H1238Z" fill="#7E57C2"/>
<text x="1247.4" y="481.75" fill="#fff" font-family="'Liberation Sans', sans-serif" font-size="15.4" text-rendering="geometricPrecision" textLength="37.9" lengthAdjust="spacingAndGlyphs" stroke="#fff" stroke-width="0.25">41.64</text>
<g transform="translate(13,582.1) scale(0.675)" fill="#131722"><path d="M14 22H7V11H0V4h14v18zM28 22h-8l7.5-18h8L28 22z"/><circle cx="20" cy="8" r="4"/></g>
</svg>
</body></html>
